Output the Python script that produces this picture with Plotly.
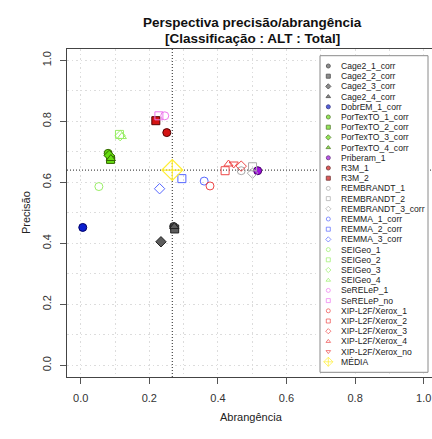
import plotly.graph_objects as go

# ---------------- data ----------------
systems = ["Cage2_1_corr", "Cage2_2_corr", "Cage2_3_corr", "Cage2_4_corr", "DobrEM_1_corr",
           "PorTexTO_1_corr", "PorTexTO_2_corr", "PorTexTO_3_corr", "PorTexTO_4_corr",
           "Priberam_1", "R3M_1", "R3M_2", "REMBRANDT_1", "REMBRANDT_2", "REMBRANDT_3_corr",
           "REMMA_1_corr", "REMMA_2_corr", "REMMA_3_corr",
           "SEIGeo_1", "SEIGeo_2", "SEIGeo_3", "SEIGeo_4", "SeRELeP_1", "SeRELeP_no",
           "XIP-L2F/Xerox_1", "XIP-L2F/Xerox_2", "XIP-L2F/Xerox_3", "XIP-L2F/Xerox_4",
           "XIP-L2F/Xerox_no", "MÉDIA"]
recall = [0.271, 0.274, 0.234, 0.273, 0.006,
          0.080, 0.087, 0.083, 0.088,
          0.516, 0.251, 0.219, 0.468, 0.501, 0.501,
          0.360, 0.295, 0.230,
          0.053, 0.113, 0.115, 0.120, 0.245, 0.228,
          0.377, 0.421, 0.468, 0.431, 0.446, 0.267]
precision = [0.455, 0.447, 0.405, 0.455, 0.452,
             0.695, 0.675, 0.688, 0.678,
             0.638, 0.763, 0.802, 0.638, 0.651, 0.630,
             0.604, 0.612, 0.579,
             0.586, 0.757, 0.753, 0.750, 0.818, 0.818,
             0.588, 0.638, 0.653, 0.660, 0.660, 0.640]
symbols = ["circle", "square", "diamond", "triangle-up", "circle",
           "circle", "square", "diamond", "triangle-up",
           "circle", "circle", "square", "circle-open", "square-open", "diamond-open",
           "circle-open", "square-open", "diamond-open",
           "circle-open", "square-open", "diamond-open", "triangle-up-open",
           "circle-open", "square-open",
           "circle-open", "square-open", "diamond-open", "triangle-up-open",
           "triangle-down-open", "diamond-cross-open"]
fills = ["#5c5c5c"] * 4 + ["#0a1fd0"] + ["#66dd11"] * 4 + ["#a010e0", "#d41414", "#d41414"] + \
        ["#aaaaaa"] * 3 + ["#5566ff"] * 3 + ["#99ee66"] * 4 + ["#ee77ee"] * 2 + \
        ["#ee4848"] * 5 + ["#ffee33"]
borders = ["#222222"] * 4 + ["#000066"] + ["#336600"] * 4 + ["#440066", "#550000", "#550000"] + \
          fills[12:]

x_ticks = [0.0, 0.2, 0.4, 0.6, 0.8, 1.0]
y_ticks = [0.0, 0.2, 0.4, 0.6, 0.8, 1.0]
tick_text = ["0.0", "0.2", "0.4", "0.6", "0.8", "1.0"]
minor_ticks = [0.1, 0.3, 0.5, 0.7, 0.9]

title1 = "Perspectiva precisão/abrangência"
title2 = "[Classificação : ALT : Total]"
xlabel = "Abrangência"
ylabel = "Precisão"

# ---------------- geometry helpers ----------------
W, H = 432, 439
L, R, T, B = 67, 432, 49, 377
FONT = "Liberation Sans, Arial, Helvetica, sans-serif"
GRIDC = "#dcdcdc"
GRIDDASH = "1.5px,3px"


def px(xp):
    return (xp - L) / (R - L)


def py(yp):
    return (B - yp) / (B - T)


fig = go.Figure()

# main points
for i, name in enumerate(systems):
    big = name == "MÉDIA"
    fig.add_trace(go.Scatter(
        x=[recall[i]], y=[precision[i]], mode="markers", showlegend=False,
        marker=dict(symbol=symbols[i], size=16 if big else 8, color=fills[i],
                    line=dict(color=borders[i], width=1.2 if big else 1)),
        name=name, xaxis="x", yaxis="y", cliponaxis=False))

# mean reference lines
mx, my = recall[-1], precision[-1]
fig.add_shape(type="line", xref="x", yref="paper", x0=mx, x1=mx, y0=0, y1=1,
              line=dict(color="#222222", width=1, dash="1px,2px"), layer="between")
fig.add_shape(type="line", xref="paper", yref="y", x0=0, x1=1, y0=my, y1=my,
              line=dict(color="#222222", width=1, dash="1px,2px"), layer="between")

# ---------------- manual legend (separate subplot) ----------------
n = len(systems)
top_e = (54.7 - 66) / 10.2
bot_e = (373.3 - 66) / 10.2
box_top = (55.7 - 66) / 10.2
box_bot = (372.3 - 66) / 10.2
fig.add_trace(go.Scatter(
    x=[0, 108, 108, 0, 0], y=[box_top, box_top, box_bot, box_bot, box_top],
    mode="lines", fill="toself", fillcolor="white",
    line=dict(color="#8a8a8a", width=1), showlegend=False, hoverinfo="skip",
    xaxis="x2", yaxis="y2"))
fig.add_trace(go.Scatter(
    x=[8.3] * n, y=list(range(n)), mode="markers", showlegend=False,
    marker=dict(symbol=symbols, size=[7 if s == "MÉDIA" else 4 for s in systems],
                color=fills, line=dict(color=borders, width=1)),
    xaxis="x2", yaxis="y2", cliponaxis=False))
for i, name in enumerate(systems):
    fig.add_annotation(x=19, y=i, xref="x2", yref="y2", text=name, showarrow=False,
                       xanchor="left", yanchor="middle",
                       font=dict(family=FONT, size=8.6, color="#222222"))

# titles
fig.add_annotation(x=px(252), y=py(13), xref="paper", yref="paper", text="<b>" + title1 + "</b>",
                   showarrow=False, font=dict(family=FONT, size=13.5, color="#111111"))
fig.add_annotation(x=px(252), y=py(29), xref="paper", yref="paper", text="<b>" + title2 + "</b>",
                   showarrow=False, font=dict(family=FONT, size=13.5, color="#111111"))
fig.add_annotation(x=px(251), y=py(425), xref="paper", yref="paper", text=xlabel,
                   showarrow=False, font=dict(family=FONT, size=11, color="#222222"))
fig.add_annotation(x=px(18), y=py(213), xref="paper", yref="paper", text=ylabel, textangle=-90,
                   showarrow=False, font=dict(family=FONT, size=11, color="#222222"))

grid = dict(showgrid=True, gridcolor=GRIDC, gridwidth=1, griddash=GRIDDASH, zeroline=False)

fig.update_layout(
    width=W, height=H, margin=dict(l=L, r=W - R, t=T, b=H - B, pad=0),
    paper_bgcolor="white", plot_bgcolor="white", showlegend=False,
    font=dict(family=FONT, size=11, color="#333333"),
    xaxis=dict(range=[(L - 80.7) / 343, (R - 80.7) / 343], tickvals=x_ticks, ticktext=tick_text,
               ticks="outside", ticklen=6, tickcolor="#555555", showline=True, mirror=True,
               linecolor="#444444", linewidth=1, ticklabelstandoff=5,
               tickfont=dict(family=FONT, size=11, color="#333333"),
               minor=dict(tickvals=minor_ticks, showgrid=True, gridcolor=GRIDC,
                          griddash=GRIDDASH, ticklen=0), **grid),
    yaxis=dict(range=[(365.3 - B) / 305, (365.3 - T) / 305], tickvals=y_ticks, ticktext=tick_text,
               ticks="outside", ticklen=6, tickcolor="#555555", showline=True, mirror=False,
               linecolor="#444444", linewidth=1, tickangle=-90, ticklabelstandoff=5,
               tickfont=dict(family=FONT, size=11, color="#333333"),
               minor=dict(tickvals=minor_ticks, showgrid=True, gridcolor=GRIDC,
                          griddash=GRIDDASH, ticklen=0), **grid),
    xaxis2=dict(domain=[px(319), px(429)], range=[-1, 109], visible=False, anchor="y2"),
    yaxis2=dict(domain=[py(373.3), py(54.7)], range=[bot_e, top_e], visible=False, anchor="x2"),
)

fig.write_html("out.html")
